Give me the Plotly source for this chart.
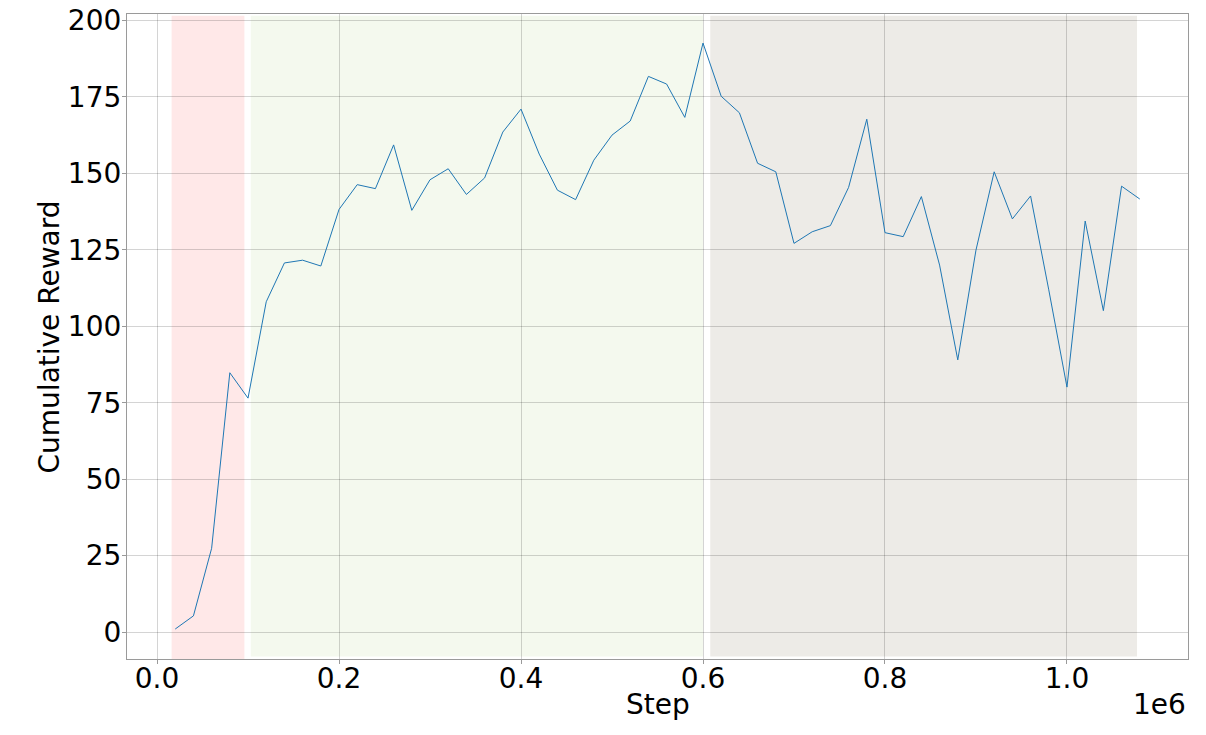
import plotly.graph_objects as go

steps = [20000 * i for i in range(1, 55)]
reward = [1.0, 5.3, 27.4, 84.8, 76.5, 108.0, 120.7, 121.6, 119.7, 138.2,
          146.3, 145.0, 159.3, 137.9, 147.9, 151.5, 143.1, 148.5, 163.5, 171.0,
          156.3, 144.5, 141.4, 154.3, 162.5, 167.1, 181.7, 179.2, 168.3, 192.6,
          175.2, 169.8, 153.3, 150.5, 127.1, 130.9, 132.9, 145.4, 167.7, 130.6,
          129.3, 142.4, 120.0, 89.0, 124.9, 150.5, 135.1, 142.6, 111.9, 80.1,
          134.4, 105.1, 145.8, 141.6]

phase_starts = [16000, 103000, 608000]
phase_ends = [96000, 600000, 1077000]
phase_bottoms = [-9.6, -8.0, -8.0]
phase_top = 201.5
phase_colors = ["rgb(255,232,232)", "rgb(244,249,238)", "rgb(237,235,231)"]

x_tickvals = [0, 200000, 400000, 600000, 800000, 1000000]
x_ticktext = ["0.0", "0.2", "0.4", "0.6", "0.8", "1.0"]
y_tickvals = [0, 25, 50, 75, 100, 125, 150, 175, 200]

fig = go.Figure()
fig.add_trace(go.Scatter(x=steps, y=reward, mode="lines",
                         line=dict(color="#1f77b4", width=1), showlegend=False))

for x0, x1, yb, c in zip(phase_starts, phase_ends, phase_bottoms, phase_colors):
    fig.add_shape(type="rect", xref="x", yref="y", x0=x0, x1=x1, y0=yb, y1=phase_top,
                  fillcolor=c, line=dict(width=0), layer="below")

font = dict(family="DejaVu Sans", size=28, color="black")
axis_common = dict(showgrid=True, gridcolor="rgba(0,0,0,0.17)", gridwidth=1,
                   showline=True, linecolor="#9a9a9a", linewidth=1.2, mirror=True,
                   ticks="outside", ticklen=4, tickcolor="#9a9a9a", tickwidth=1,
                   zeroline=False, tickfont=font, automargin=False,
                   ticklabeloverflow="allow")

# the page body adds an 8px margin, so the figure is offset by 8px
fig.update_layout(
    width=1198, height=727,
    margin=dict(l=119, r=18, t=6, b=76),
    paper_bgcolor="white", plot_bgcolor="white",
    font=font,
    xaxis=dict(range=[-33000, 1133000], tickvals=x_tickvals, ticktext=x_ticktext,
               ticklabelstandoff=-10, **axis_common),
    yaxis=dict(range=[-8.8, 202.1], tickvals=y_tickvals,
               ticklabelstandoff=-5, **axis_common),
    annotations=[
        dict(text="1e6", xref="paper", yref="paper", x=1.0, y=-0.0698,
             xanchor="right", yanchor="middle", showarrow=False, font=font),
        dict(text="Step", xref="paper", yref="paper", x=0.5, y=-0.0698,
             xanchor="center", yanchor="middle", showarrow=False, font=font),
        dict(text="Cumulative Reward", xref="paper", yref="paper", x=-0.0726, y=0.5,
             xanchor="center", yanchor="middle", textangle=-90, showarrow=False, font=font),
    ],
)

fig.write_html("out.html")
